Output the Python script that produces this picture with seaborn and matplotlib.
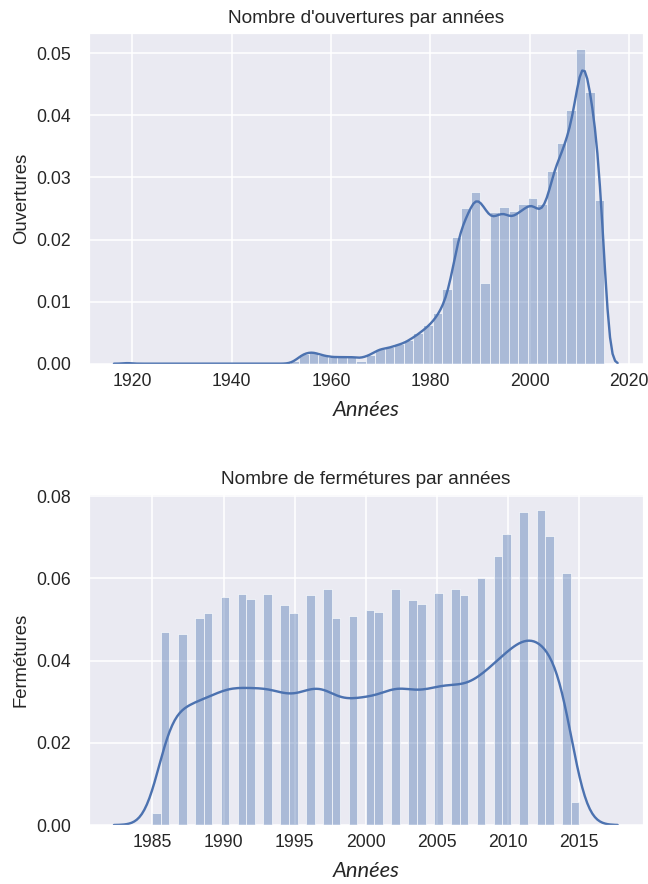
import numpy as np
import matplotlib
matplotlib.use("Agg")
import matplotlib.pyplot as plt
import seaborn as sns

# Ouvertures : part annuelle du total (1919-2015)
annees_ouv = list(range(1919, 2016))
part_ouv = [
    0.0002, 0, 0, 0, 0, 0, 0, 0, 0, 0,            # 1919-1928
    0, 0, 0, 0, 0, 0, 0, 0, 0, 0,                 # 1929-1938
    0, 0, 0, 0, 0, 0, 0, 0, 0, 0,                 # 1939-1948
    0, 0, 0,                                      # 1949-1951
    0.0001, 0.0006, 0.0014, 0.0017, 0.0019, 0.0017, 0.0014, 0.0012,   # 1952-1959
    0.0011, 0.0010, 0.0011, 0.0010, 0.0011, 0.0010, 0.0008, 0.0012,   # 1960-1967
    0.0014, 0.0020, 0.0024, 0.0024, 0.0026, 0.0029, 0.0031, 0.0034,   # 1968-1975
    0.0039, 0.0044, 0.0050, 0.0056, 0.0063, 0.0072, 0.0084, 0.0100,   # 1976-1983
    0.0128, 0.0175, 0.0213, 0.0230, 0.0246, 0.0268, 0.0260, 0.0248,   # 1984-1991
    0.0232, 0.0234, 0.0240, 0.0242, 0.0232, 0.0236, 0.0243, 0.0247,   # 1992-1999
    0.0256, 0.0252, 0.0240, 0.0250, 0.0275, 0.0316, 0.0325, 0.0351,   # 2000-2007
    0.0370, 0.0408, 0.0470, 0.0496, 0.0440, 0.0394, 0.0330, 0.0172,   # 2008-2015
]

# Fermetures : part annuelle du total (1985-2015)
annees_ferm = list(range(1985, 2016))
part_ferm = [
    0.0017, 0.0281, 0.0278, 0.0301, 0.0308, 0.0331, 0.0336, 0.0329,   # 1985-1992
    0.0336, 0.0320, 0.0308, 0.0334, 0.0343, 0.0301, 0.0304, 0.0313,   # 1993-2000
    0.0310, 0.0343, 0.0327, 0.0322, 0.0338, 0.0343, 0.0334, 0.0359,   # 2001-2008
    0.0391, 0.0423, 0.0455, 0.0458, 0.0421, 0.0366, 0.0034,           # 2009-2015
]

xticks_ouv = [1920, 1940, 1960, 1980, 2000, 2020]
yticks_ouv = [0.00, 0.01, 0.02, 0.03, 0.04, 0.05]
xticks_ferm = [1985, 1990, 1995, 2000, 2005, 2010, 2015]
yticks_ferm = [0.00, 0.02, 0.04, 0.06, 0.08]

sns.set_theme(style="darkgrid", rc={"grid.linewidth": 1.6})
plt.rcParams["font.family"] = ["Liberation Sans", "DejaVu Sans"]

BLEU = sns.color_palette("deep")[0]


def facteur_lissage(annees, poids, largeur):
    """Facteur de bande passante donnant un noyau de `largeur` années."""
    a = np.asarray(annees, float)
    w = np.asarray(poids, float)
    m = np.average(a, weights=w)
    sd = np.sqrt(np.average((a - m) ** 2, weights=w))
    return largeur / sd


def distribution(ax, annees, poids, largeur, titre, ylabel, xticks, yticks):
    # la courbe s'étend de trois largeurs de noyau de part et d'autre des données
    borne = (min(annees) - 3 * largeur, max(annees) + 3 * largeur)
    sns.histplot(
        x=annees, weights=poids, bins=50, stat="density",
        kde=True,
        kde_kws=dict(bw_method=facteur_lissage(annees, poids, largeur),
                     cut=3, clip=borne),
        line_kws=dict(linewidth=2.4),
        color=BLEU, alpha=0.4, edgecolor="white", linewidth=0.6, ax=ax,
    )
    ax.set_title(titre, fontsize=19, pad=10)
    ax.set_ylabel(ylabel, fontsize=18.5, labelpad=6)
    ax.set_xlabel("Années", fontsize=22, fontstyle="italic",
                  family=["Lato", "DejaVu Sans"], labelpad=10)
    ax.set_xticks(xticks)
    ax.set_yticks(yticks)
    ax.set_yticklabels([f"{v:.2f}" for v in yticks])
    ax.tick_params(axis="both", labelsize=17.6)
    ax.tick_params(axis="y", pad=12)
    ax.tick_params(axis="x", pad=3)


fig, (ax1, ax2) = plt.subplots(2, 1, figsize=(9, 884 / 72), dpi=72)
fig.subplots_adjust(left=0.137, right=0.992, top=0.9627, bottom=0.0667,
                    hspace=0.395)

distribution(ax1, annees_ouv, part_ouv, 0.9,
             "Nombre d'ouvertures par années", "Ouvertures",
             xticks_ouv, yticks_ouv)
distribution(ax2, annees_ferm, part_ferm, 0.9,
             "Nombre de fermétures par années", "Fermétures",
             xticks_ferm, yticks_ferm)

fig.savefig("out.png", dpi=72)
